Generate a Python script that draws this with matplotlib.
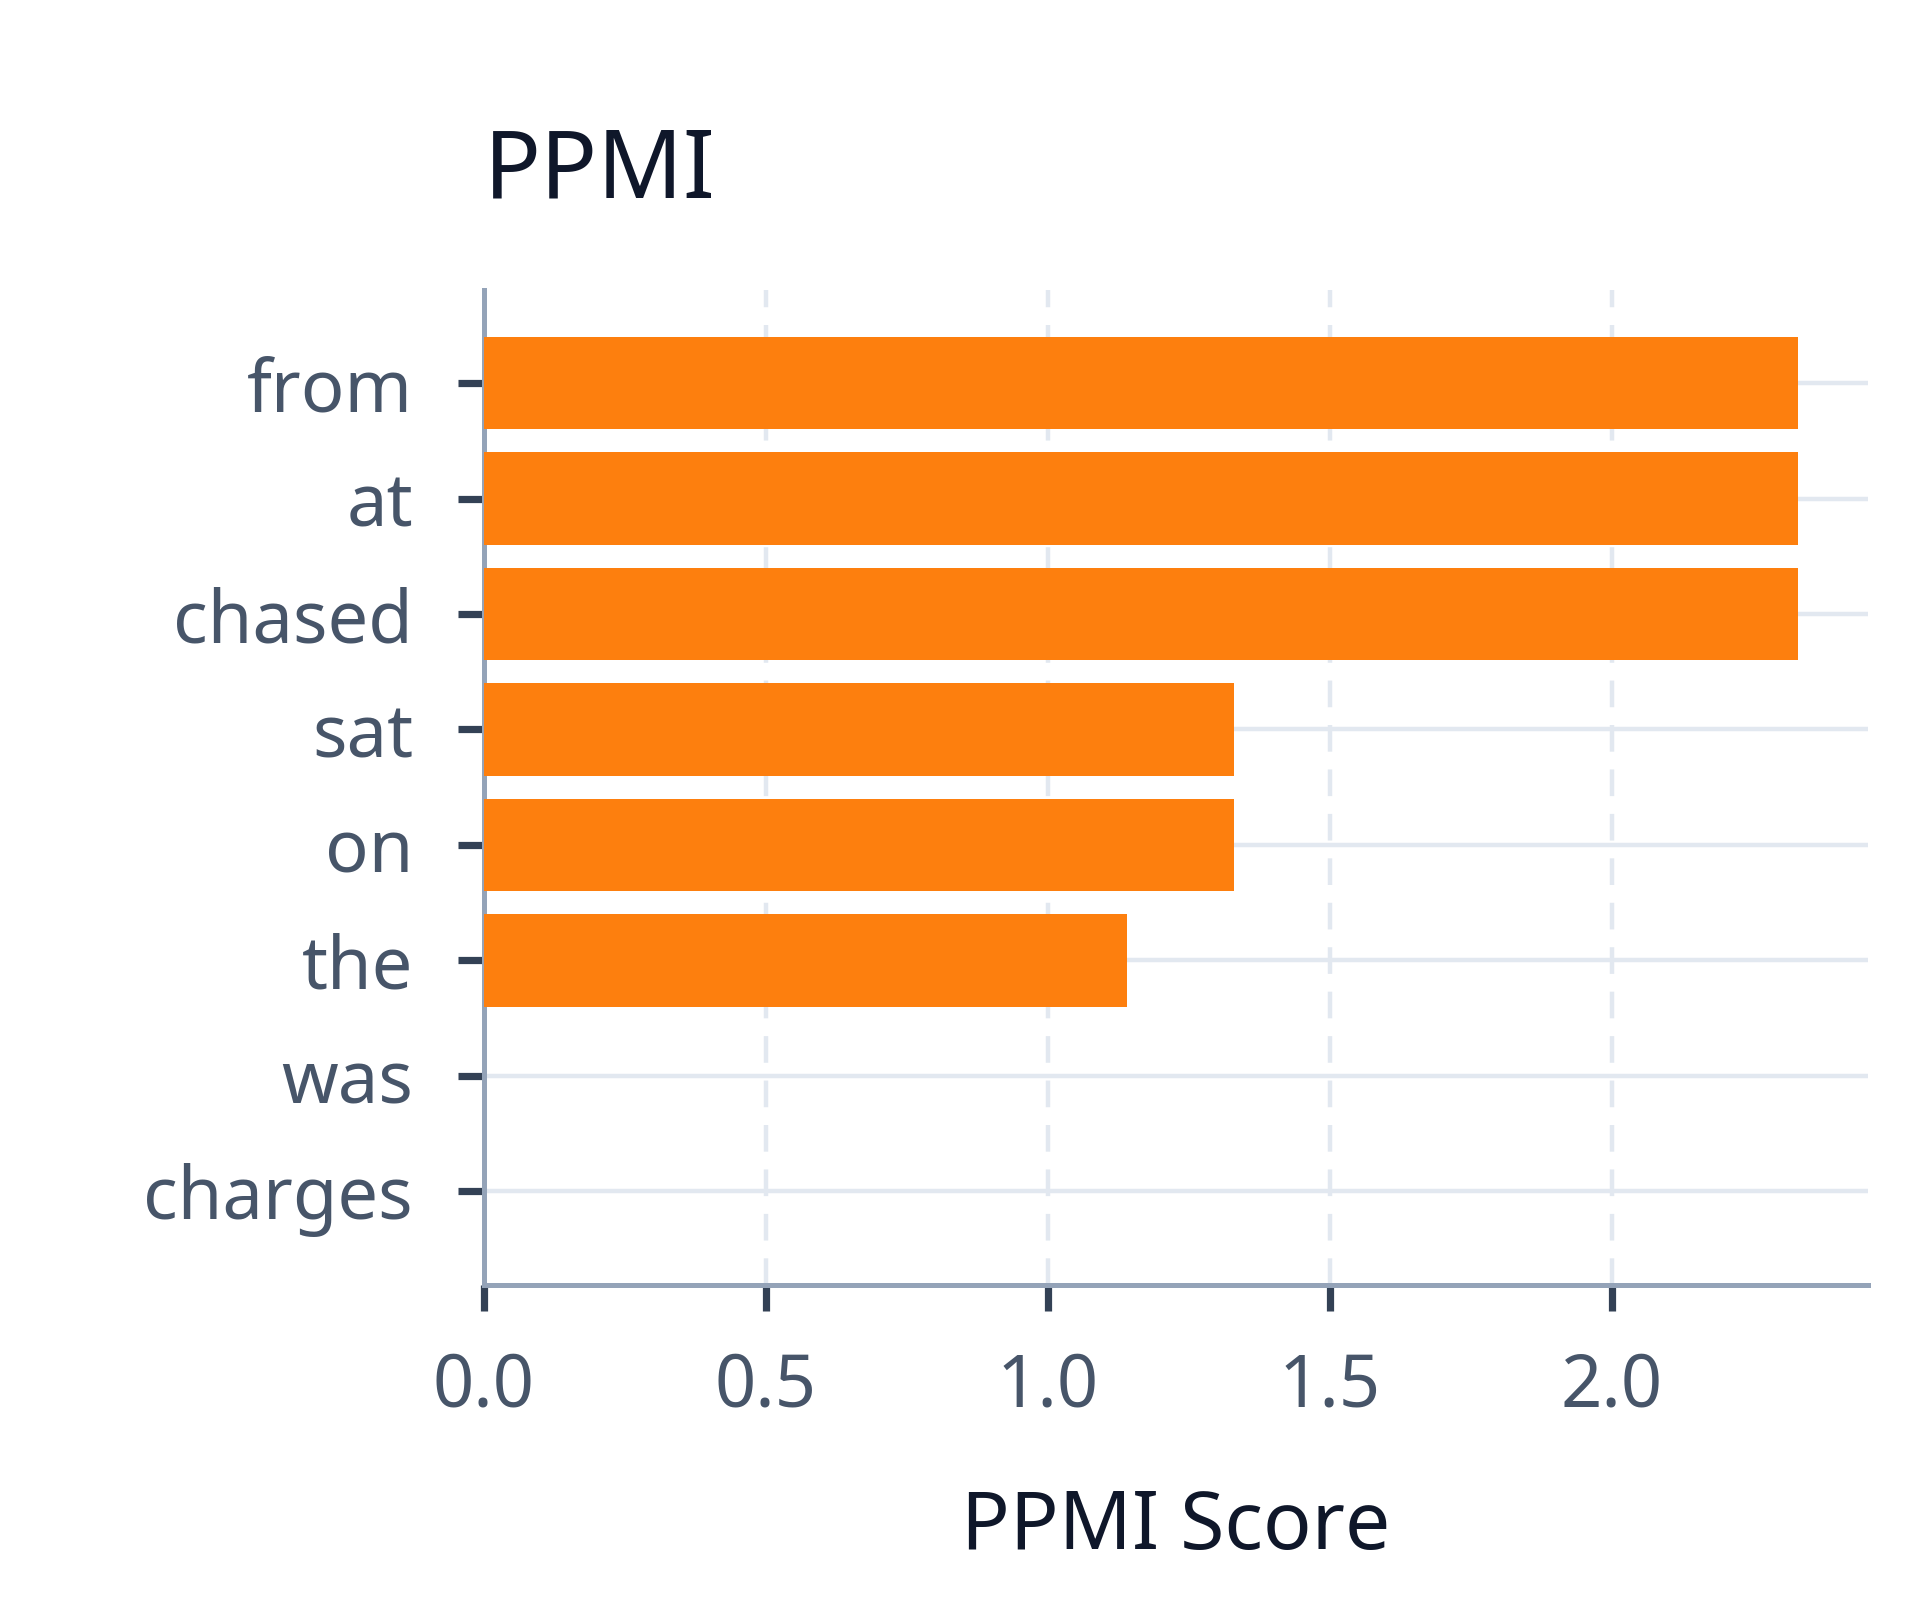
import matplotlib
matplotlib.use("Agg")
import matplotlib.pyplot as plt

# Dados (de cima para baixo)
palavras = ["from", "at", "chased", "sat", "on", "the", "was", "charges"]
ppmi = [2.33, 2.33, 2.33, 1.33, 1.33, 1.14, 0.0, 0.0]
ticks_x = [0.0, 0.5, 1.0, 1.5, 2.0]

plt.rcParams["font.family"] = ["Noto Sans", "DejaVu Sans"]

fig = plt.figure(figsize=(9.6, 8), dpi=200)
ax = fig.add_axes([0.252, 0.197, 0.721, 0.622])

pos = list(range(len(palavras)))
ax.barh(pos, ppmi, height=0.8, color="#fd7f0e", zorder=3)

ax.set_yticks(pos)
ax.set_yticklabels(palavras)
ax.set_ylim(len(palavras) - 1 + 0.81, -0.81)
ax.set_xlim(0, 2.454)
ax.set_xticks(ticks_x)
ax.set_xticklabels([f"{t:.1f}" for t in ticks_x])

# Grade: horizontal contínua, vertical tracejada
ax.grid(axis="y", color="#e2e8f0", linewidth=1.6, zorder=0)
ax.grid(axis="x", color="#e2e8f0", linewidth=1.6, linestyle=(0, (6, 4)), zorder=0)
ax.set_axisbelow(True)

for lado in ["top", "right"]:
    ax.spines[lado].set_visible(False)
for lado in ["left", "bottom"]:
    ax.spines[lado].set_color("#94a3b8")
    ax.spines[lado].set_linewidth(1.8)

ax.tick_params(axis="both", colors="#334155", labelcolor="#475569",
               labelsize=26, length=9.5, width=2.6)
ax.tick_params(axis="y", pad=16)
ax.tick_params(axis="x", pad=14)

ax.set_title("PPMI", loc="left", fontsize=34, color="#0f172a", pad=33)
ax.set_xlabel("PPMI Score", fontsize=29, color="#0f172a", labelpad=23)

fig.savefig("out.png", dpi=200, facecolor="white")
